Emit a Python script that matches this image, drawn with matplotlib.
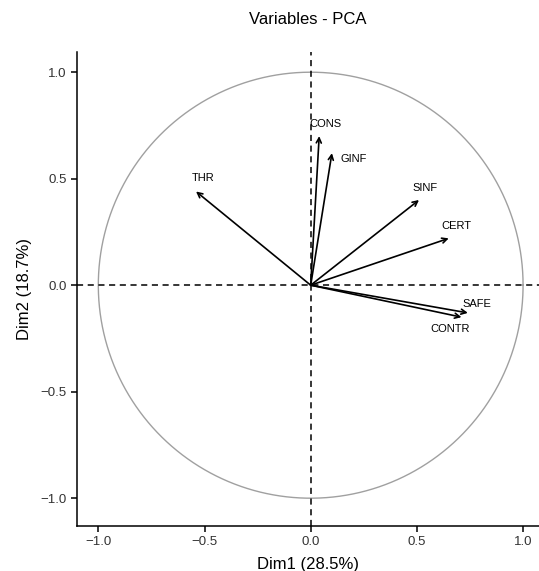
import numpy as np
import matplotlib
matplotlib.use("Agg")
import matplotlib.pyplot as plt

plt.rcParams['font.family'] = ['Liberation Sans', 'DejaVu Sans']

variables = ["CONS", "GINF", "THR", "SINF", "CERT", "SAFE", "CONTR"]
dim1 = [0.04, 0.10, -0.54, 0.51, 0.65, 0.74, 0.71]
dim2 = [0.70, 0.62, 0.44, 0.40, 0.22, -0.13, -0.15]
xticks = [-1.0, -0.5, 0.0, 0.5, 1.0]
yticks = [-1.0, -0.5, 0.0, 0.5, 1.0]

# label offsets (points) and alignment
label_style = {
    "CONS": (0, 5, "left", "bottom", -7),
    "GINF": (6, -4, "left", "center", 0),
    "THR": (-3, 6, "left", "bottom", 0),
    "SINF": (-5, 5, "left", "bottom", 0),
    "CERT": (-5, 5, "left", "bottom", 0),
    "SAFE": (-4, 3, "left", "bottom", 0),
    "CONTR": (-6, -5, "right", "top", 12),
}

fig = plt.figure(figsize=(5.39, 5.71), dpi=100)
ax = fig.add_axes([0.143, 0.079, 0.857, 0.830])

theta = np.linspace(0, 2 * np.pi, 400)
ax.plot(np.cos(theta), np.sin(theta), color="#a0a0a0", lw=1.0)
ax.axhline(0, color="black", ls=(0, (4, 3)), lw=1.1)
ax.axvline(0, color="black", ls=(0, (4, 3)), lw=1.1)

for name, x, y in zip(variables, dim1, dim2):
    ax.annotate("", xy=(x, y), xytext=(0, 0),
                arrowprops=dict(arrowstyle="->", color="black", lw=1.2,
                                shrinkA=0, shrinkB=0, mutation_scale=9))
    dx, dy, ha, va, extra = label_style[name]
    ax.annotate(name, xy=(x, y), xytext=(dx + extra, dy), textcoords="offset points",
                ha=ha, va=va, fontsize=8, color="black")

ax.set_xlim(-1.1, 1.075)
ax.set_ylim(-1.13, 1.095)
ax.set_xticks(xticks)
ax.set_yticks(yticks)
ax.set_xticklabels([f"{t:.1f}".replace("-", "\u2212") for t in xticks])
ax.set_yticklabels([f"{t:.1f}".replace("-", "\u2212") for t in yticks])
ax.spines["top"].set_visible(False)
ax.spines["right"].set_visible(False)
ax.spines["left"].set_linewidth(1.1)
ax.spines["bottom"].set_linewidth(1.1)
ax.tick_params(direction="out", length=4, width=1.1, labelsize=9.5, labelcolor="#333333")
ax.set_xlabel("Dim1 (28.5%)", fontsize=12, labelpad=6)
ax.set_ylabel("Dim2 (18.7%)", fontsize=12, labelpad=6)
ax.set_title("Variables - PCA", fontsize=12, pad=20)

fig.savefig("out.png", dpi=100)
